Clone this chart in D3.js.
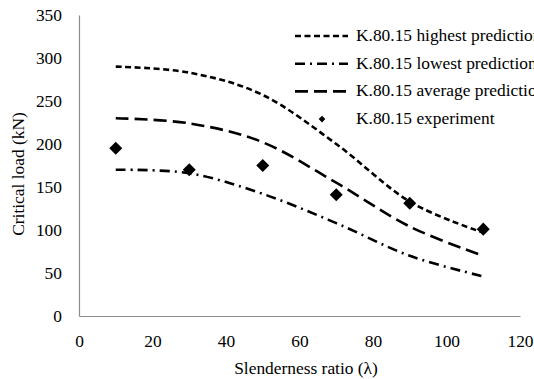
<!DOCTYPE html>
<html>
<head>
<meta charset="utf-8">
<script src="https://cdn.jsdelivr.net/npm/d3@7"></script>
<style>
  body { margin: 0; background: #fff; }
  text { font-family: "Liberation Serif", "Times New Roman", serif; fill: #000; }
</style>
</head>
<body>
<div id="chart"></div>
<script>
// slenderness ratios
var xdata = [10, 30, 50, 70, 90, 110];
var highest = [290, 283, 257, 200, 133, 97];
var lowest = [170, 166, 142, 108, 70, 46];
var average = [230, 224, 202, 155, 104, 70];
var experiment = [195, 170, 175, 141, 131, 101];
var xticks = [0, 20, 40, 60, 80, 100, 120];
var yticks = [0, 50, 100, 150, 200, 250, 300, 350];
var legendNames = ['K.80.15 highest prediction', 'K.80.15 lowest prediction',
                   'K.80.15 average prediction', 'K.80.15 experiment'];

var svgwidth = 534, svgheight = 379;
var svg = d3.select('#chart').append('svg')
    .attr('width', svgwidth)
    .attr('height', svgheight);

var fs = '17.4px';
var margin = {top: 15, left: 79, right: 14, bottom: 63};
var x = d3.scaleLinear().domain([0, 120]).range([margin.left, svgwidth - margin.right]);
var y = d3.scaleLinear().domain([0, 350]).range([svgheight - margin.bottom, margin.top]);

// axes: gray lines, no ticks
var xAxis = svg.append('g')
    .attr('transform', 'translate(0,' + y(0) + ')')
    .call(d3.axisBottom(x).tickValues(xticks).tickSize(0).tickPadding(19));
var yAxis = svg.append('g')
    .attr('transform', 'translate(' + x(0) + ',0)')
    .call(d3.axisLeft(y).tickValues(yticks).tickSize(0).tickPadding(17));
[xAxis, yAxis].forEach(function (a) {
    a.select('.domain').attr('stroke', '#8c8c8c').attr('stroke-width', 1.2);
    a.selectAll('text').attr('font-size', fs)
        .attr('font-family', '"Liberation Serif", serif').attr('fill', '#000');
});

// titles
svg.append('text')
    .attr('x', 306).attr('y', 374)
    .attr('text-anchor', 'middle')
    .style('font-size', fs)
    .text('Slenderness ratio  (λ)');
svg.append('text')
    .attr('transform', 'translate(24,174) rotate(-90)')
    .attr('text-anchor', 'middle')
    .style('font-size', fs)
    .text('Critical load (kN)');

// prediction curves
var series = [
    {vals: highest, dash: '6,3.5'},
    {vals: lowest, dash: '10,5,2,5'},
    {vals: average, dash: '13,6'}
];
var line = d3.line()
    .x(function (d, i) { return x(xdata[i]); })
    .y(function (d) { return y(d); })
    .curve(d3.curveCardinal.tension(0));
svg.selectAll('.pred')
    .data(series)
    .enter()
    .append('path')
    .attr('class', 'pred')
    .attr('d', function (s) { return line(s.vals); })
    .attr('fill', 'none')
    .attr('stroke', '#000')
    .attr('stroke-width', 2.6)
    .attr('stroke-dasharray', function (s) { return s.dash; });

// experiment diamonds
var diamond = d3.symbol().type(d3.symbolSquare).size(85);
svg.selectAll('.exp')
    .data(experiment)
    .enter()
    .append('path')
    .attr('class', 'exp')
    .attr('d', diamond)
    .attr('transform', function (d, i) {
        return 'translate(' + x(xdata[i]) + ',' + y(d) + ') rotate(45)';
    })
    .attr('fill', '#000');

// legend (the reference itself runs off the right edge)
var lg = svg.append('g').attr('transform', 'translate(295,36)');
var rowH = 27.7;
lg.selectAll('.lgline')
    .data(series)
    .enter()
    .append('line')
    .attr('x1', 0).attr('x2', 53)
    .attr('y1', function (d, i) { return i * rowH; })
    .attr('y2', function (d, i) { return i * rowH; })
    .attr('stroke', '#000')
    .attr('stroke-width', 2.6)
    .attr('stroke-dasharray', function (s) { return s.dash; });
lg.append('path')
    .attr('d', d3.symbol().type(d3.symbolSquare).size(22))
    .attr('transform', 'translate(27,' + (3 * rowH) + ') rotate(45)')
    .attr('fill', '#000');
lg.selectAll('.lgtext')
    .data(legendNames)
    .enter()
    .append('text')
    .attr('x', 61)
    .attr('y', function (d, i) { return i * rowH + 5; })
    .style('font-size', fs)
    .text(function (d) { return d; });
</script>
</body>
</html>
